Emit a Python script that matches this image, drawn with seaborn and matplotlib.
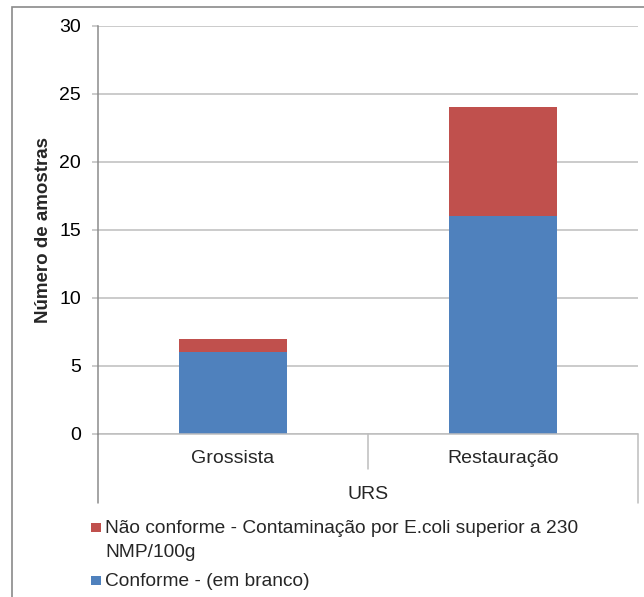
import matplotlib
matplotlib.use("Agg")
import matplotlib.pyplot as plt
import matplotlib.transforms as mtransforms
from matplotlib.patches import Rectangle
import pandas as pd
import seaborn as sns

# Samples per establishment type
categories = ["Grossista", "Restauração"]
conforme = [6, 16]
nao_conforme = [1, 8]
group_label = "URS"
legend_labels = [
    ["Não conforme - Contaminação por E.coli superior a 230", "NMP/100g"],
    ["Conforme - (em branco)"],
]
y_ticks = [0, 5, 10, 15, 20, 25, 30]

BLUE = "#4F81BD"
RED = "#C0504D"
GRID = "#BDBDBD"
AXIS = "#8C8C8C"
FS = 14

sns.set_theme(style="white")
plt.rcParams["font.family"] = ["Liberation Sans", "DejaVu Sans"]

df = pd.DataFrame({
    "categoria": categories,
    "conforme": conforme,
    "total": [c + n for c, n in zip(conforme, nao_conforme)],
})

W, H = 644, 597
fig = plt.figure(figsize=(W / 100, H / 100), dpi=100)

# outer chart frame (open on the right and bottom)
fig.add_artist(Rectangle((12 / W, -0.05), 1.2, 1 - 6.5 / H + 0.05,
                         transform=fig.transFigure, fill=False,
                         edgecolor="#8A8A8A", linewidth=1.2))

left, right, top, bottom = 97.5, 638, 25.5, 434
ax = fig.add_axes([left / W, 1 - bottom / H, (right - left) / W, (bottom - top) / H])

# stacked bars: full height in red, compliant part in blue on top
sns.barplot(data=df, x="categoria", y="total", color=RED, width=0.4,
            saturation=1, ax=ax, linewidth=0)
sns.barplot(data=df, x="categoria", y="conforme", color=BLUE, width=0.4,
            saturation=1, ax=ax, linewidth=0)

ax.set_xlim(-0.5, len(categories) - 0.5)
ax.set_ylim(0, 30)
ax.set_yticks(y_ticks)
ax.set_yticklabels([str(t) for t in y_ticks], fontsize=FS, color="#000000")
ax.yaxis.grid(True, color=GRID, linewidth=1.1)
ax.set_axisbelow(True)
ax.tick_params(axis="y", length=4.5, width=1.1, color=GRID, pad=7.5, left=True)
ax.set_xticks([])
ax.set_xlabel("")
ax.set_ylabel("Número de amostras", fontsize=13.5, fontweight="bold")
ax.yaxis.label.set_verticalalignment("center")
ax.yaxis.set_label_coords((44 - left) / (right - left), 0.5)

for s in ["top", "right", "bottom"]:
    ax.spines[s].set_visible(False)
ax.spines["left"].set_color(AXIS)
ax.spines["left"].set_linewidth(1.1)

# multi-level category axis drawn below the plot area
ph = bottom - top
trans = mtransforms.blended_transform_factory(ax.transData, ax.transAxes)
y_inner = -(469 - bottom) / ph
y_outer = -(503 - bottom) / ph
ax.plot([-0.5, len(categories) - 0.5], [0, 0], transform=trans,
        color=GRID, linewidth=1.1, clip_on=False)
ax.plot([-0.5, -0.5], [0, y_outer], transform=trans, color=AXIS,
        linewidth=1.1, clip_on=False)
for i in range(1, len(categories) + 1):
    x = i - 0.5
    y_end = y_outer if i == len(categories) else y_inner
    ax.plot([x, x], [0, y_end], transform=trans, color=GRID,
            linewidth=1.1, clip_on=False)
for i, c in enumerate(categories):
    ax.text(i, -(463 - bottom) / ph, c, transform=trans, ha="center",
            va="baseline", fontsize=FS)
ax.text((len(categories) - 1) / 2, -(499 - bottom) / ph, group_label,
        transform=trans, ha="center", va="baseline", fontsize=FS)

# legend below the chart: square key aligned with the first text line
def fx(px):
    return px / W


def fy(py):
    return 1 - py / H


entry_baselines = [[533, 557], [586]]
for color, lines, baselines in zip([RED, BLUE], legend_labels, entry_baselines):
    b0 = baselines[0]
    fig.add_artist(Rectangle((fx(91), fy(b0 - 1)), 9.5 / W, 9.5 / H,
                             transform=fig.transFigure, facecolor=color,
                             edgecolor="none"))
    for line, b in zip(lines, baselines):
        fig.text(fx(105), fy(b), line, ha="left", va="baseline", fontsize=13.8)

fig.savefig("out.png", dpi=100)
